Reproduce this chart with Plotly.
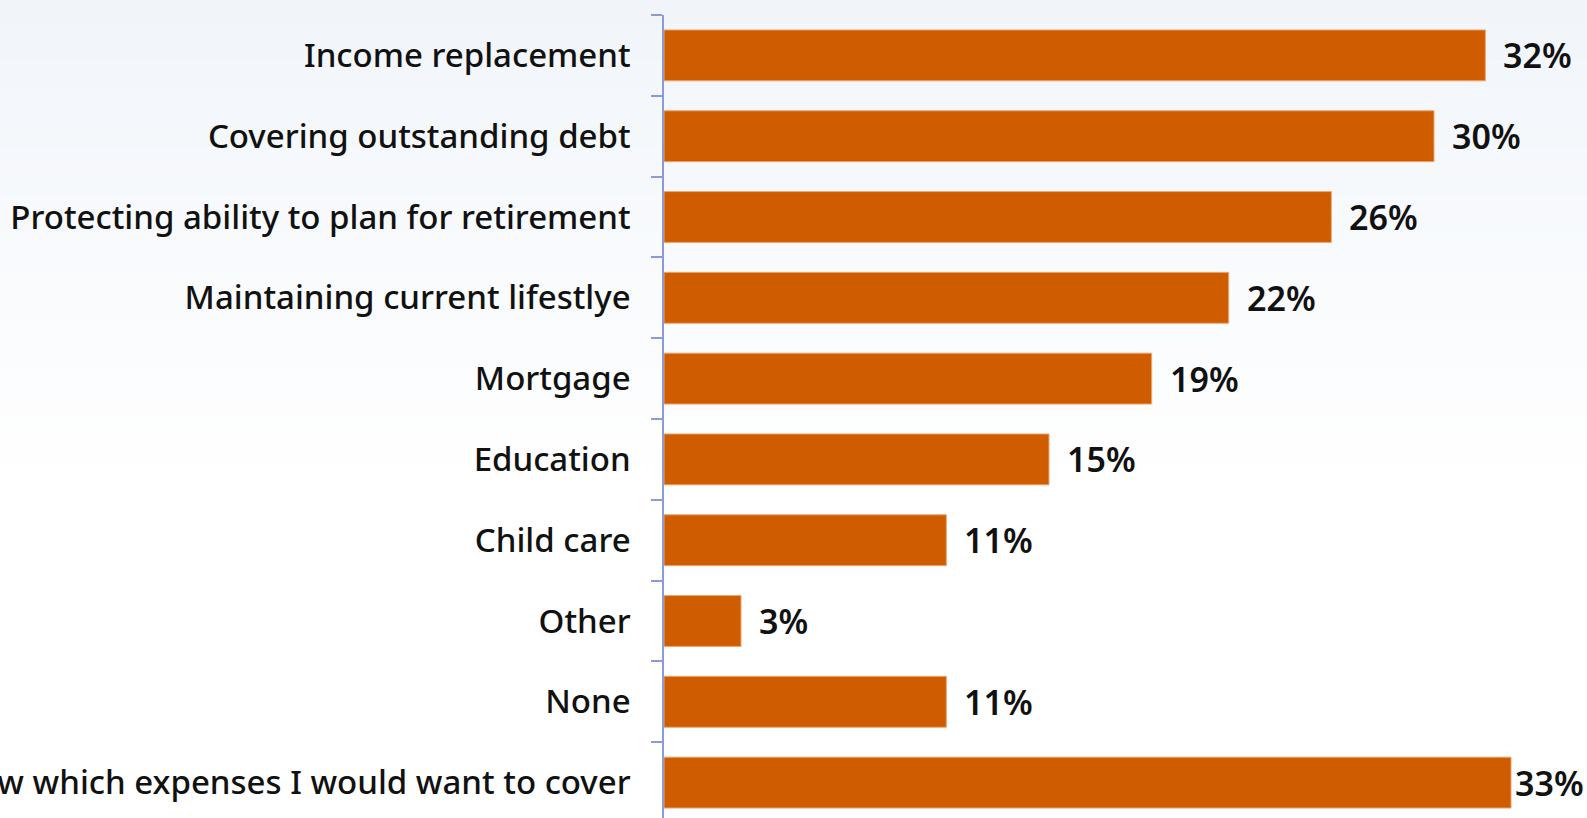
import plotly.graph_objects as go

# Expenses respondents would want life insurance to cover (% of respondents)
categories = [
    "Income replacement",
    "Covering outstanding debt",
    "Protecting ability to plan for retirement",
    "Maintaining current lifestlye",
    "Mortgage",
    "Education",
    "Child care",
    "Other",
    "None",
    "I don't know which expenses I would want to cover",
]
values = [32, 30, 26, 22, 19, 15, 11, 3, 11, 33]

W, H = 1587, 818
M_L, M_T = 664, 15
X_MAX = 35.96
BAR_COLOR = "#D05C00"
AXIS_COLOR = "#8C9AD6"
LABEL_FONT = "Noto Sans, Open Sans, DejaVu Sans, sans-serif"

fig = go.Figure()

fig.add_trace(go.Bar(
    x=values,
    y=categories,
    orientation="h",
    marker=dict(color=BAR_COLOR, line=dict(color="#EBA774", width=1)),
    hoverinfo="skip",
))

# value labels just past each bar end; pulled in where they would run off the page
plot_w = W - M_L
px_per_unit = plot_w / X_MAX
for cat, v in zip(categories, values):
    gap = 16
    if v * px_per_unit + gap + 72 > plot_w:
        gap = 2
    fig.add_annotation(
        x=v, y=cat, xref="x", yref="y",
        text=f"{v}%", showarrow=False,
        xanchor="left", yanchor="middle", xshift=gap,
        font=dict(family=LABEL_FONT, size=34, color="#111111", weight=600),
    )

# soft pale-blue wash fading to white toward the lower part of the page
n_bands = 40
top_rgb = (241, 245, 250)
fade_end = 0.6
for i in range(n_bands):
    t = i / (n_bands - 1)
    c = tuple(round(top_rgb[k] + (255 - top_rgb[k]) * t) for k in range(3))
    y_top = 1 - fade_end * i / n_bands
    y_bot = 1 - fade_end * (i + 1) / n_bands
    fig.add_shape(
        type="rect", xref="paper", yref="paper",
        x0=-1.0, x1=1.01,
        y0=(y_bot * H) / (H - M_T),
        y1=(y_top * H) / (H - M_T) + (0.05 if i == 0 else 0),
        fillcolor=f"rgb{c}", line=dict(width=0), layer="below",
    )

plot_h = H - M_T
span = plot_h / 80.8

fig.update_layout(
    width=W, height=H,
    margin=dict(l=M_L, r=0, t=M_T, b=0, pad=0),
    paper_bgcolor="white",
    plot_bgcolor="rgba(0,0,0,0)",
    showlegend=False,
    bargap=0.37,
    template="none",
    xaxis=dict(
        range=[0, X_MAX], visible=False, showgrid=False, zeroline=False,
        fixedrange=True,
    ),
    yaxis=dict(
        type="category",
        range=[-0.5 + span, -0.5],
        tickson="boundaries",
        ticks="outside", ticklen=11, tickwidth=1.5, tickcolor=AXIS_COLOR,
        showline=True, linecolor=AXIS_COLOR, linewidth=1.5,
        showgrid=False, zeroline=False,
        automargin=False,
        ticklabelstandoff=25,
        tickfont=dict(family=LABEL_FONT, size=33, color="#111111", weight=500),
        fixedrange=True,
    ),
)

fig.write_html("out.html")
